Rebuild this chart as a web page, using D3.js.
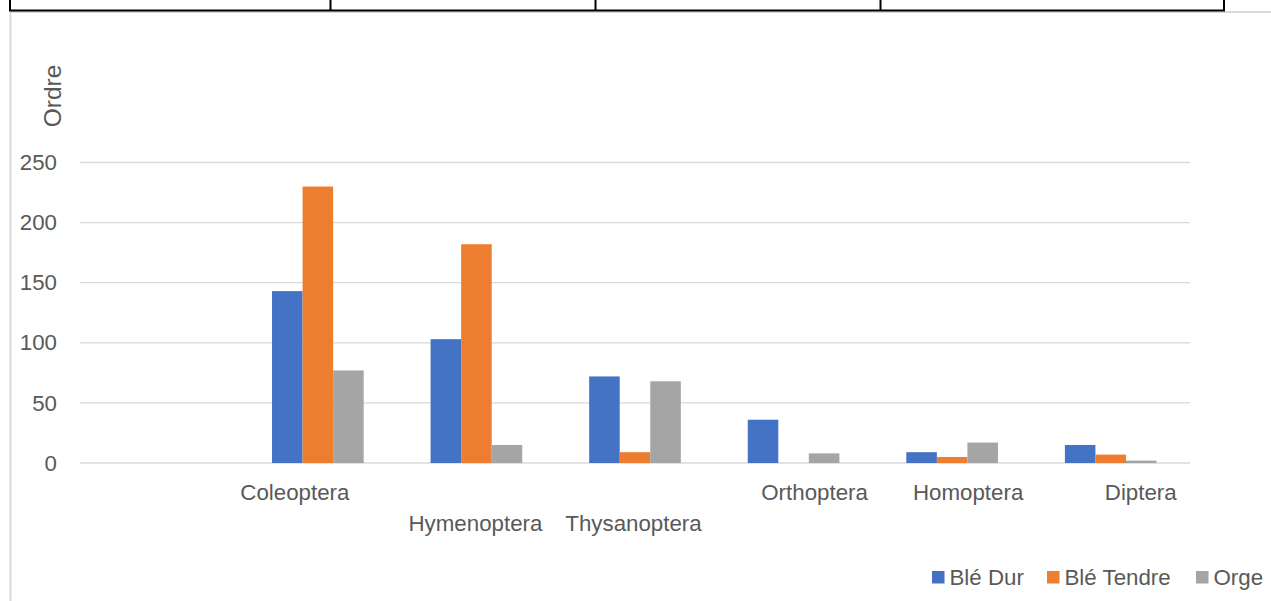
<!DOCTYPE html>
<html>
<head>
<meta charset="utf-8">
<script src="https://cdn.jsdelivr.net/npm/d3@7"></script>
<style>
  html, body { margin: 0; padding: 0; background: #fff; }
  svg { display: block; font-family: "Liberation Sans", Arial, sans-serif; }
</style>
</head>
<body>
<svg id="chart" width="1271" height="601"></svg>
<script>
// Insect orders counted per crop
const categories = ["", "Coleoptera", "Hymenoptera", "Thysanoptera", "Orthoptera", "Homoptera", "Diptera"];
const series = ["Blé Dur", "Blé Tendre", "Orge"];
const bleDur    = [null, 143, 103, 72, 36, 9, 15];
const bleTendre = [null, 230, 182, 9, 0, 5, 7];
const orge      = [null, 77, 15, 68, 8, 17, 2];
const yTicks = [0, 50, 100, 150, 200, 250];
const yTitle = "Ordre";

const colors = { "Blé Dur": "#4472C4", "Blé Tendre": "#ED7D31", "Orge": "#A5A5A5" };
const textColor = "#595959";
const fontSize = 22.3;
const valuesBySeries = { "Blé Dur": bleDur, "Blé Tendre": bleTendre, "Orge": orge };

const svg = d3.select("#chart");

// Sheet table row above the chart and the chart frame
const frame = svg.append("g");
frame.append("line").attr("x1", 10).attr("x2", 1271).attr("y1", 12).attr("y2", 12)
  .attr("stroke", "#d9d9d9").attr("stroke-width", 2);
frame.append("line").attr("x1", 10.5).attr("x2", 10.5).attr("y1", 11).attr("y2", 601)
  .attr("stroke", "#d9d9d9").attr("stroke-width", 2);
frame.append("line").attr("x1", 9).attr("x2", 1225).attr("y1", 10.5).attr("y2", 10.5)
  .attr("stroke", "#000").attr("stroke-width", 2);
[10, 330.5, 595.5, 880.5, 1224].forEach(x => {
  frame.append("line").attr("x1", x).attr("x2", x).attr("y1", 0).attr("y2", 11)
    .attr("stroke", "#000").attr("stroke-width", 2);
});

// Plot area
const plot = { left: 80, right: 1190, top: 162.5, bottom: 463 };

const x0 = d3.scaleBand().domain(categories).range([plot.left, plot.right]).paddingInner(0).paddingOuter(0);
const x1 = d3.scaleBand().domain(series).range([0, x0.bandwidth()]).paddingInner(0).paddingOuter(1.095);
const y = d3.scaleLinear().domain([0, 250]).range([plot.bottom, plot.top]);

// Horizontal gridlines
svg.append("g")
  .selectAll("line")
  .data(yTicks)
  .join("line")
  .attr("x1", plot.left).attr("x2", plot.right)
  .attr("y1", d => y(d)).attr("y2", d => y(d))
  .attr("stroke", "#d9d9d9").attr("stroke-width", 1.3);

// Y axis labels
const yAxis = d3.axisLeft(y).tickValues(yTicks).tickSize(0).tickPadding(0);
const yg = svg.append("g").attr("transform", "translate(57,0)").call(yAxis);
yg.select(".domain").remove();
yg.selectAll("text").attr("fill", textColor).attr("font-size", fontSize)
  .attr("font-family", "Liberation Sans, Arial, sans-serif");

// Y axis title
svg.append("text")
  .attr("transform", "translate(61,96) rotate(-90)")
  .attr("text-anchor", "middle")
  .attr("fill", textColor).attr("font-size", 24.5)
  .text(yTitle);

// Bars
const groups = svg.append("g").selectAll("g")
  .data(categories)
  .join("g")
  .attr("transform", d => `translate(${x0(d)},0)`);

groups.selectAll("rect")
  .data((c, i) => series.map(s => ({ s, v: valuesBySeries[s][i] })).filter(d => d.v != null && d.v > 0))
  .join("rect")
  .attr("x", d => x1(d.s))
  .attr("width", x1.bandwidth())
  .attr("y", d => y(d.v))
  .attr("height", d => y(0) - y(d.v))
  .attr("fill", d => colors[d.s]);

// Category labels (staggered on two rows, as laid out in the sheet)
const tickLayout = {
  "Coleoptera":   { row: 0, dx: -23 },
  "Hymenoptera":  { row: 1, dx: -1 },
  "Thysanoptera": { row: 1, dx: -1.5 },
  "Orthoptera":   { row: 0, dx: 21 },
  "Homoptera":    { row: 0, dx: 16 },
  "Diptera":      { row: 0, dx: 30 }
};
const xAxis = d3.axisBottom(x0).tickSize(0).tickPadding(0);
const xg = svg.append("g").attr("transform", `translate(0,${plot.bottom})`).call(xAxis);
xg.select(".domain").remove();
xg.selectAll("text")
  .attr("fill", textColor).attr("font-size", fontSize)
  .attr("font-family", "Liberation Sans, Arial, sans-serif")
  .attr("dy", null)
  .attr("y", d => (tickLayout[d] ? (tickLayout[d].row ? 68 : 37) : 37))
  .attr("x", d => (tickLayout[d] ? tickLayout[d].dx : 0));

// Legend
const legendItems = [
  { s: "Blé Dur", x: 932 },
  { s: "Blé Tendre", x: 1047 },
  { s: "Orge", x: 1196 }
];
const lg = svg.append("g").selectAll("g").data(legendItems).join("g")
  .attr("transform", d => `translate(${d.x},571)`);
lg.append("rect").attr("width", 12.5).attr("height", 12.5).attr("fill", d => colors[d.s]);
lg.append("text").attr("x", 17.5).attr("y", 13.5)
  .attr("fill", textColor).attr("font-size", fontSize)
  .text(d => d.s);
</script>
</body>
</html>
